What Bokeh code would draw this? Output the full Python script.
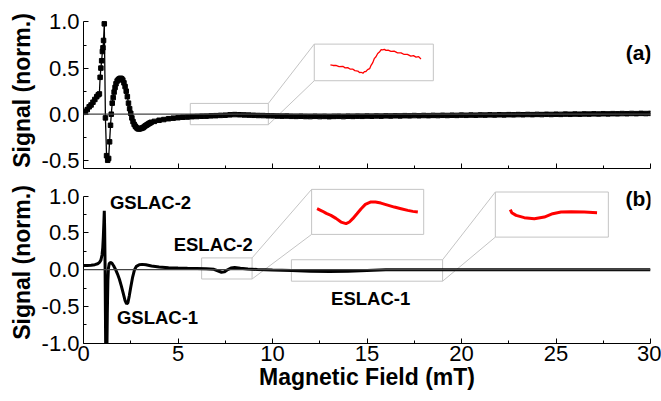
from bokeh.plotting import figure
from bokeh.layouts import column
from bokeh.models import Range1d, Span, Label, FixedTicker, PrintfTickFormatter
from bokeh.embed import file_html
from bokeh.resources import INLINE

FONT = "Liberation Sans"

# ---------------- data ----------------
# panel (a): measured signal (square markers)
a_x = [0.00, 0.10, 0.20, 0.30, 0.40, 0.50, 0.60, 0.70, 0.78, 0.84, 0.88, 0.92, 0.96, 1.00, 1.03, 1.06,
       1.10, 1.16, 1.22, 1.28, 1.33, 1.38, 1.43, 1.47, 1.52, 1.57, 1.62, 1.67, 1.72, 1.78, 1.84, 1.90,
       1.96, 2.02, 2.08, 2.14, 2.20, 2.26, 2.32, 2.38, 2.44, 2.50, 2.56, 2.62, 2.68, 2.74, 2.80, 2.86,
       2.92, 2.98, 3.04, 3.10, 3.16, 3.22, 3.28, 3.34, 3.40, 3.46, 3.52, 3.58,
       3.75, 4.00, 4.25, 4.50, 4.75, 5.00, 5.25, 5.50, 5.75, 6.00, 6.25, 6.50, 6.75, 7.00, 7.25, 7.50,
       7.75, 8.00, 8.25, 8.50, 8.75, 9.00, 9.25, 9.50, 9.75, 10.00, 10.25, 10.50, 10.75, 11.00, 11.25,
       11.50, 11.75, 12.00, 12.25, 12.50, 12.75, 13.00, 13.25, 13.50, 13.75, 14.00, 14.25, 14.50, 14.75,
       15.00, 15.25, 15.50, 15.75, 16.00, 16.25, 16.50, 16.75, 17.00, 17.25, 17.50, 17.75, 18.00, 18.25,
       18.50, 18.75, 19.00, 19.25, 19.50, 19.75, 20.00, 20.25, 20.50, 20.75, 21.00, 21.25, 21.50, 21.75,
       22.00, 22.25, 22.50, 22.75, 23.00, 23.25, 23.50, 23.75, 24.00, 24.25, 24.50, 24.75, 25.00, 25.25,
       25.50, 25.75, 26.00, 26.25, 26.50, 26.75, 27.00, 27.25, 27.50, 27.75, 28.00, 28.25, 28.50, 28.75,
       29.00, 29.25, 29.50, 29.75, 30.00]
a_y = [0.02, 0.03, 0.05, 0.08, 0.10, 0.13, 0.16, 0.19, 0.21, 0.22, 0.40, 0.50, 0.58, 0.68, 0.72, 0.80,
       0.98, -0.04, -0.45, -0.50, -0.48, -0.30, -0.12, 0.00, 0.12, 0.18, 0.24, 0.29, 0.33, 0.36, 0.375, 0.385,
       0.39, 0.385, 0.37, 0.34, 0.30, 0.25, 0.19, 0.12, 0.06, 0.01, -0.04, -0.08, -0.11, -0.13, -0.145, -0.155,
       -0.16, -0.158, -0.155, -0.15, -0.145, -0.135, -0.125, -0.118, -0.11, -0.102, -0.095, -0.088,
       -0.078, -0.066, -0.058, -0.049, -0.043, -0.038, -0.033, -0.031, -0.027, -0.025, -0.022, -0.021, -0.018, -0.016, -0.013, -0.011,
       -0.007, -0.004, -0.006, -0.008, -0.010, -0.012, -0.014, -0.015, -0.017, -0.018, -0.020, -0.021, -0.020, -0.023, -0.024,
       -0.022, -0.025, -0.026, -0.023, -0.026, -0.024, -0.027, -0.024, -0.023, -0.026, -0.022, -0.024, -0.021, -0.023,
       -0.020, -0.022, -0.019, -0.021, -0.018, -0.020, -0.017, -0.019, -0.016, -0.018, -0.015, -0.017, -0.014, -0.016,
       -0.013, -0.015, -0.012, -0.014, -0.011, -0.013, -0.010, -0.012, -0.009, -0.011, -0.008, -0.010, -0.007, -0.009,
       -0.006, -0.008, -0.005, -0.007, -0.004, -0.006, -0.003, -0.005, -0.002, -0.004, -0.001, -0.003, 0.000, -0.002,
       0.001, -0.001, 0.002, 0.000, 0.003, 0.001, 0.004, 0.002, 0.005, 0.003, 0.006, 0.004, 0.007, 0.005,
       0.008, 0.006, 0.009, 0.007, 0.009]

# panel (a) inset (magnified ESLAC region, red)
ai_x = [6.21, 6.30, 6.40, 6.51, 6.64, 6.72, 6.81, 6.89, 6.98, 7.06, 7.16, 7.22, 7.27, 7.34, 7.39, 7.44,
        7.50, 7.57, 7.62, 7.68, 7.73, 7.79, 7.85, 7.91, 7.97, 8.02, 8.08, 8.14, 8.21, 8.31, 8.42, 8.54,
        8.66, 8.77, 8.88, 9.00, 9.09, 9.18, 9.27, 9.35]
ai_y = [-0.0200, -0.0208, -0.0206, -0.0222, -0.0219, -0.0240, -0.0236, -0.0255, -0.0255, -0.0276, -0.0282, -0.0302,
        -0.0298, -0.0310, -0.0290, -0.0288, -0.0262, -0.0250, -0.0206, -0.0170, -0.0118, -0.0092, -0.0050, -0.0030,
        0.0002, -0.0002, 0.0006, -0.0008, -0.0004, -0.0020, -0.0018, -0.0040, -0.0040, -0.0062, -0.0060, -0.0084,
        -0.0078, -0.0098, -0.0090, -0.0122]

# panel (b): calculated signal
b_x = [0.0, 0.2, 0.4, 0.6, 0.75, 0.85, 0.92, 0.98, 1.02, 1.05, 1.08, 1.10, 1.12, 1.14, 1.16, 1.18, 1.20,
       1.23, 1.26, 1.29, 1.32, 1.36, 1.42, 1.5, 1.6, 1.7, 1.8, 1.9, 2.0, 2.1, 2.2, 2.28, 2.35, 2.42, 2.5,
       2.6, 2.7, 2.8, 2.95, 3.1, 3.3, 3.6, 4.0, 4.5, 5.0, 5.5, 6.0, 6.5, 6.9, 7.1, 7.3, 7.45, 7.6, 7.8,
       8.0, 8.3, 8.7, 9.2, 10.0, 11.0, 12.0, 13.0, 14.0, 15.0, 16.0, 17.0, 18.0, 20.0, 22.0, 25.0, 28.0, 30.0]
b_y = [0.055, 0.056, 0.06, 0.068, 0.08, 0.10, 0.13, 0.2, 0.3, 0.45, 0.65, 0.80, 0.55, 0.1, -0.6, -1.3, -1.6,
       -1.3, -0.6, -0.15, 0.02, 0.08, 0.10, 0.09, 0.05, 0.0, -0.06, -0.13, -0.22, -0.32, -0.42, -0.465, -0.45,
       -0.36, -0.24, -0.10, 0.0, 0.045, 0.068, 0.072, 0.066, 0.05, 0.036, 0.027, 0.022, 0.018, 0.015, 0.012,
       0.005, -0.015, -0.035, -0.03, -0.005, 0.022, 0.028, 0.018, 0.008, 0.002, -0.005, -0.012, -0.02, -0.025,
       -0.02, -0.01, -0.002, 0.0, 0.0, 0.0, 0.0, 0.0, 0.0, 0.0]

# panel (b) insets (red)
b2_x = [6.38, 6.50, 6.60, 6.71, 6.83, 6.95, 7.07, 7.15, 7.23, 7.33, 7.43, 7.53, 7.65, 7.77, 7.90, 8.06,
        8.22, 8.38, 8.54, 8.66, 8.78]
b2_y = [0.0111, 0.004, -0.003, -0.009, -0.018, -0.0292, -0.034, -0.029, -0.019, -0.004, 0.0111, 0.024,
        0.031, 0.031, 0.028, 0.022, 0.016, 0.011, 0.006, 0.003, 0.001]
b1_x = [12.06, 12.16, 12.47, 13.05, 13.76, 14.47, 15.06, 15.65, 16.36, 17.30, 18.20]
b1_y = [0.0113, 0.0013, -0.0077, -0.0153, -0.0187, -0.0133, -0.002, 0.0033, 0.0047, 0.0033, 0.0013]

x_ticks = [0, 5, 10, 15, 20, 25, 30]
x_minor = [2.5, 7.5, 12.5, 17.5, 22.5, 27.5]
ya_ticks = [-0.5, 0.0, 0.5, 1.0]
ya_minor = [-0.25, 0.25, 0.75]
yb_ticks = [-1.0, -0.5, 0.0, 0.5, 1.0]
yb_minor = [-0.75, -0.25, 0.25, 0.75]

GREY = "#c4c4c4"


def base_fig(height, yr, top, bottom, yticks, yminor, xlabels):
    p = figure(width=661, height=height, x_range=Range1d(0, 30), y_range=Range1d(*yr),
               output_backend="svg", toolbar_location=None,
               min_border_left=83, min_border_right=11, min_border_top=top, min_border_bottom=bottom)
    p.outline_line_color = None
    p.grid.visible = False
    xa = p.xaxis[0]
    xa.ticker = FixedTicker(ticks=x_ticks, minor_ticks=x_minor)
    xa.bounds = (0, 30)
    xa.major_tick_in = 5
    xa.major_tick_out = 0
    xa.minor_tick_in = 3
    xa.minor_tick_out = 0
    xa.axis_line_color = "black"
    if xlabels:
        xa.formatter = PrintfTickFormatter(format="%d")
        xa.major_label_text_font = FONT
        xa.major_label_text_font_size = "22px"
        xa.major_label_text_color = "black"
        xa.major_label_standoff = 2
        xa.axis_label = "Magnetic Field (mT)"
        xa.axis_label_text_font = FONT
        xa.axis_label_text_font_size = "23px"
        xa.axis_label_text_font_style = "bold"
        xa.axis_label_text_color = "black"
        xa.axis_label_standoff = 0
    else:
        xa.major_label_text_font_size = "0px"
        xa.major_label_text_color = None
        xa.major_label_standoff = 0
    ya = p.yaxis[0]
    ya.ticker = FixedTicker(ticks=yticks, minor_ticks=yminor)
    ya.bounds = (yr[0], 1.0)
    ya.formatter = PrintfTickFormatter(format="%.1f")
    ya.major_tick_in = 5
    ya.major_tick_out = 0
    ya.minor_tick_in = 3
    ya.minor_tick_out = 0
    ya.axis_line_color = "black"
    ya.major_label_text_font = FONT
    ya.major_label_text_font_size = "22px"
    ya.major_label_text_color = "black"
    ya.major_label_standoff = 4
    ya.axis_label = "Signal (norm.)"
    ya.axis_label_text_font = FONT
    ya.axis_label_text_font_size = "23px"
    ya.axis_label_text_font_style = "bold"
    ya.axis_label_text_color = "black"
    ya.axis_label_standoff = 4
    p.add_layout(Span(location=0, dimension="width", line_color="#444444", line_width=1.2))
    return p


def add_inset(p, name, xr, yr, small, big, window, xs, ys, lw):
    sx0, sx1, sy0, sy1 = small
    bx0, bx1, by0, by1 = big
    wx0, wx1, wy0, wy1 = window
    fx = lambda v: wx0 + (v - bx0) * (wx1 - wx0) / (bx1 - bx0)
    fy = lambda v: wy0 + (v - by0) * (wy1 - wy0) / (by1 - by0)
    p.extra_x_ranges[name] = Range1d(fx(xr[0]), fx(xr[1]))
    p.extra_y_ranges[name] = Range1d(fy(yr[0]), fy(yr[1]))
    p.quad(left=[sx0, bx0], right=[sx1, bx1], bottom=[sy0, by0], top=[sy1, by1],
           fill_color=None, line_color=GREY, line_width=1)
    p.segment(x0=[sx1, sx1], y0=[sy1, sy0], x1=[bx0, bx0], y1=[by1, by0], line_color=GREY, line_width=1)
    p.line(xs, ys, x_range_name=name, y_range_name=name, line_color="#ff0000", line_width=lw)


# ---------- panel (a) ----------
ya_range = (-0.589, 1.103)
pa = base_fig(181, ya_range, 12, 13, ya_ticks, ya_minor, False)
add_inset(pa, "ia", (0, 30), ya_range,
          (5.65, 9.78, -0.114, 0.117), (12.21, 18.51, 0.363, 0.76),
          (5.65, 9.78, -0.041, 0.0075), ai_x, ai_y, 1.3)
pa.line(a_x, a_y, line_color="black", line_width=1.3)
pa.scatter(a_x, a_y, marker="square", size=4.5, fill_color="black", line_color="black")
pa.add_layout(Label(x=30.05, y=0.669, text="(a)", text_align="right", text_baseline="middle",
                    text_font=FONT, text_font_style="bold", text_font_size="21px", text_color="black"))

# ---------- panel (b) ----------
yb_range = (-1.005, 1.2)
pb = base_fig(220, yb_range, 0, 58, yb_ticks, yb_minor, True)
add_inset(pb, "ib2", (0, 30), yb_range,
          (6.25, 8.92, -0.127, 0.16), (12.07, 18.0, 0.48, 1.093),
          (6.25, 8.92, -0.0663, 0.0693), b2_x, b2_y, 3)
add_inset(pb, "ib1", (0, 30), yb_range,
          (11.0, 19.0, -0.157, 0.135), (21.79, 27.77, 0.443, 1.057),
          (11.0, 19.0, -0.08, 0.07), b1_x, b1_y, 3)
pb.line(b_x, b_y, line_color="black", line_width=3)

for txt, x, y in [("GSLAC-2", 1.40, 0.92), ("ESLAC-2", 4.77, 0.344),
                  ("GSLAC-1", 1.77, -0.648), ("ESLAC-1", 13.1, -0.397)]:
    pb.add_layout(Label(x=x, y=y, text=txt, text_align="left", text_baseline="middle",
                        text_font=FONT, text_font_style="bold", text_font_size="18.5px",
                        text_color="black"))
pb.add_layout(Label(x=30.09, y=0.971, text="(b)", text_align="right", text_baseline="middle",
                    text_font=FONT, text_font_style="bold", text_font_size="21px", text_color="black"))

layout = column(pa, pb, spacing=0)
open("out.html", "w").write(file_html(layout, INLINE))
